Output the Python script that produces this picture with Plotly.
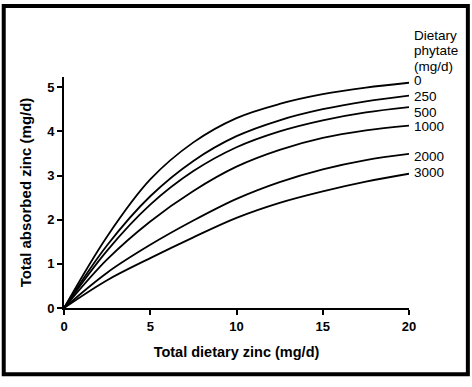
import plotly.graph_objects as go

# Data
dietary_zinc = [0, 2.5, 5, 7.5, 10, 12.5, 15, 17.5, 20]
phytate_labels = ["0", "250", "500", "1000", "2000", "3000"]
absorbed_0 = [0, 1.62, 2.91, 3.75, 4.30, 4.62, 4.84, 4.99, 5.10]
absorbed_250 = [0, 1.42, 2.53, 3.33, 3.89, 4.25, 4.50, 4.68, 4.81]
absorbed_500 = [0, 1.30, 2.34, 3.10, 3.64, 4.00, 4.25, 4.43, 4.55]
absorbed_1000 = [0, 1.10, 1.96, 2.65, 3.20, 3.58, 3.85, 4.02, 4.13]
absorbed_2000 = [0, 0.80, 1.43, 1.98, 2.47, 2.85, 3.14, 3.35, 3.49]
absorbed_3000 = [0, 0.63, 1.13, 1.60, 2.04, 2.38, 2.64, 2.86, 3.04]
x_ticks = [0, 5, 10, 15, 20]
y_ticks = [0, 1, 2, 3, 4, 5]

series = [absorbed_0, absorbed_250, absorbed_500, absorbed_1000, absorbed_2000, absorbed_3000]
label_yshift = [2, -1, -5, -1, -3, 1]

FONT = "Liberation Sans, Arial, sans-serif"

fig = go.Figure()
for name, vals in zip(phytate_labels, series):
    fig.add_trace(go.Scatter(
        x=dietary_zinc, y=vals, mode="lines", name=name,
        line=dict(color="black", width=1.8, shape="spline", smoothing=1.0),
        showlegend=False, hoverinfo="skip", cliponaxis=False,
    ))

annotations = []
for name, vals, ys in zip(phytate_labels, series, label_yshift):
    annotations.append(dict(
        x=dietary_zinc[-1], y=vals[-1], xref="x", yref="y",
        text=name, showarrow=False, xanchor="left", yanchor="middle",
        xshift=3, yshift=ys,
        font=dict(family=FONT, size=13.5, color="black"),
    ))
for txt, yp in zip(["Dietary", "phytate", "(mg/d)"], [1.1818, 1.1126, 1.0433]):
    annotations.append(dict(
        x=1.0, y=yp, xref="paper", yref="paper", text=txt, showarrow=False,
        xanchor="left", yanchor="middle", xshift=3,
        font=dict(family=FONT, size=13.5, color="black"),
    ))

fig.update_layout(
    width=472, height=387,
    margin=dict(l=64, r=63.3, t=77, b=79, pad=0, autoexpand=False),
    paper_bgcolor="white", plot_bgcolor="white",
    annotations=annotations,
    shapes=[dict(type="rect", xref="paper", yref="paper",
                 x0=-0.1747, x1=1.1706, y0=-0.2866, y1=1.3074,
                 line=dict(color="black", width=4), fillcolor="rgba(0,0,0,0)")],
    xaxis=dict(
        range=[0, 20], tickvals=x_ticks, ticks="outside", ticklen=5, tickwidth=1.8,
        tickcolor="black", showline=True, linecolor="black", linewidth=1.8,
        showgrid=False, zeroline=False, automargin=False,
        tickfont=dict(family=FONT, size=13, color="black", weight="bold"),
        title=dict(text="Total dietary zinc (mg/d)", standoff=14,
                   font=dict(family=FONT, size=14.5, color="black", weight="bold")),
    ),
    yaxis=dict(
        range=[0, 5.23], tickvals=y_ticks, ticks="outside", ticklen=5, tickwidth=1.8,
        tickcolor="black", showline=True, linecolor="black", linewidth=1.8,
        showgrid=False, zeroline=False, automargin=False,
        tickfont=dict(family=FONT, size=13, color="black", weight="bold"),
        title=dict(text="Total absorbed zinc (mg/d)", standoff=12,
                   font=dict(family=FONT, size=15, color="black", weight="bold")),
    ),
)

fig.write_html(
    "out.html",
    config={"displayModeBar": False},
    post_script="document.body.style.margin='0';document.body.style.padding='0';",
)
